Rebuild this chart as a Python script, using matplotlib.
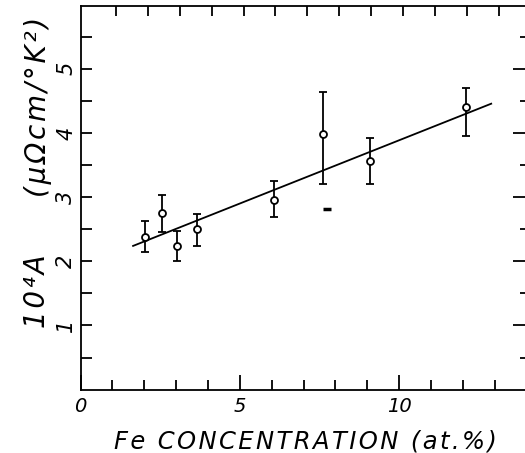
import matplotlib
matplotlib.use("Agg")
import matplotlib.pyplot as plt

# data
fe_conc = [2.04, 2.55, 3.04, 3.67, 6.08, 7.60, 9.10, 12.10]
a_coef = [2.385, 2.76, 2.24, 2.50, 2.96, 3.99, 3.565, 4.41]
err_hi = [2.625, 3.03, 2.48, 2.735, 3.25, 4.645, 3.925, 4.70]
err_lo = [2.14, 2.45, 2.00, 2.24, 2.69, 3.20, 3.21, 3.96]

fit_x = [1.65, 12.89]
fit_y = [2.24, 4.457]

stray_x = [7.74]
stray_y = [2.82]

yerr = [[a - lo for a, lo in zip(a_coef, err_lo)],
        [hi - a for a, hi in zip(a_coef, err_hi)]]

plt.rcParams['font.family'] = ['DejaVu Sans']

fig = plt.figure(figsize=(5.25, 4.53), dpi=100)
ax = fig.add_axes([80.5 / 525, 1 - 389.6 / 453, 1.003 - 80.5 / 525, (389.6 - 6) / 453])

ax.plot(fit_x, fit_y, color='black', lw=1.3)
ax.errorbar(fe_conc, a_coef, yerr=yerr, fmt='o', color='black', mfc='white',
            mec='black', ms=5, mew=1.3, elinewidth=1.3, capsize=3, capthick=1.3)
ax.plot(stray_x, stray_y, marker='_', color='black', ms=5.5, mew=2.5, ls='none')

ax.set_xlim(0, 14)
ax.set_ylim(0, 5.98)

for s in ax.spines.values():
    s.set_linewidth(1.3)

ax.set_xticks([0, 5, 10])
ax.set_xticks(range(1, 14), minor=True)
ax.set_xticklabels(['0', '5', '10'], fontsize=14, fontstyle='italic')
ax.set_yticks([1, 2, 3, 4, 5])
ax.set_yticks([0.5, 1.5, 2.5, 3.5, 4.5, 5.5], minor=True)
ax.set_yticklabels(['1', '2', '3', '4', '5'], fontsize=15, fontstyle='italic',
                   rotation=90, va='center')

ax.tick_params(axis='x', which='major', direction='in', length=11, width=1.3, pad=5,
               top=False)
ax.tick_params(axis='x', which='minor', direction='in', length=7.5, width=1.3, top=False)
ax.tick_params(axis='y', which='both', direction='in', length=8, width=1.3, pad=3,
               right=False)

# top ticks (slightly offset in the original drawing)
top = ax.secondary_xaxis('top')
top.set_xticks([t + 0.12 for t in range(1, 14)])
top.set_xticklabels([])
top.tick_params(direction='in', length=7.5, width=1.3)
top.spines['top'].set_visible(False)

right = ax.secondary_yaxis('right')
right.set_yticks([1, 2, 3, 4, 5])
right.set_yticks([0.5, 1.5, 2.5, 3.5, 4.5, 5.5], minor=True)
right.set_yticklabels([])
right.tick_params(which='major', direction='in', length=10, width=1.3)
right.tick_params(which='minor', direction='in', length=5, width=1.3)
right.spines['right'].set_visible(False)

sp = '\u200a'
fig.text(305 / 525, 1 - 441 / 453, sp.join('Fe CONCENTRATION (at.%)'), fontsize=17.5,
         fontstyle='italic', ha='center', va='center')
fig.text(37 / 525, 1 - 291 / 453, sp.join('10\u2074A'), fontsize=20, fontstyle='italic',
         rotation=90, ha='center', va='center')
fig.text(38 / 525, 1 - 107 / 453, sp.join('(\u03bc\u03a9cm/\u00b0K\u00b2)'), fontsize=20,
         fontstyle='italic', rotation=90, ha='center', va='center')

fig.savefig('out.png', dpi=100)
